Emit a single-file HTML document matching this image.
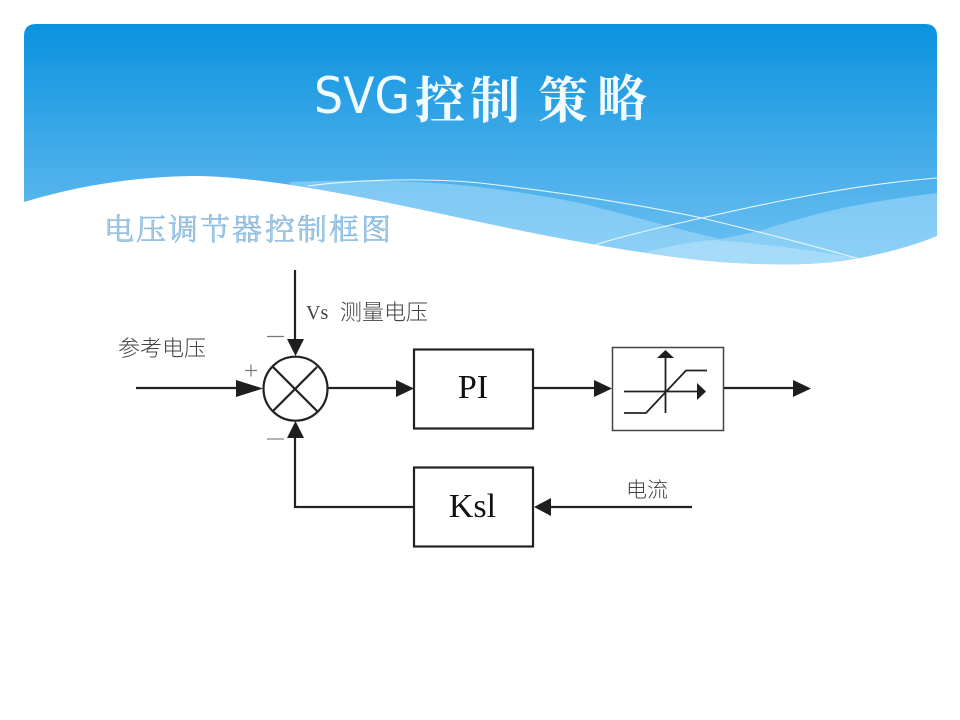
<!DOCTYPE html>
<html><head><meta charset="utf-8"><style>
html,body{margin:0;padding:0;background:#fff;width:960px;height:720px;overflow:hidden}
svg{display:block}
</style></head><body>
<svg width="960" height="720" viewBox="0 0 960 720" xmlns="http://www.w3.org/2000/svg">
<defs>
<linearGradient id="g" x1="0" y1="24" x2="0" y2="265" gradientUnits="userSpaceOnUse">
<stop offset="0" stop-color="#0a92df"/><stop offset="0.5" stop-color="#3faae8"/><stop offset="1" stop-color="#6fc1f2"/>
</linearGradient>
<clipPath id="c"><path d="M24 202C90 182 150 176 200 176C280 178 390 203 480 222C560 239 650 256 720 262C780 266 825 265 860 258C890 252 915 245 937 236L937 24L24 24Z"/></clipPath>
</defs>
<path d="M24 202C90 182 150 176 200 176C280 178 390 203 480 222C560 239 650 256 720 262C780 266 825 265 860 258C890 252 915 245 937 236V36Q937 24 925 24H36Q24 24 24 36Z" fill="url(#g)"/>
<g clip-path="url(#c)">
<path d="M290 182C360 179 430 181 480 187C520 192 550 197 580 203C640 218 680 230 720 239C735 236 750 233 763 230C790 221 820 213 847 207C880 201 910 196 937 193V270H290Z" fill="#a6dcfa" opacity=".55"/>
<path d="M625 258C660 247 695 241 713 240C760 243 810 250 857 258V270H625Z" fill="#bfe7fc" opacity=".5"/>
<path d="M308 186C360 179 430 178 480 183C560 192 640 205 702 218C760 232 810 245 860 259" fill="none" stroke="#e6f6fe" stroke-width="1.100"/>
<path d="M591 246C630 234 670 225 702 218C780 200 860 184 937 178" fill="none" stroke="#e6f6fe" stroke-width="1.100"/>
</g>
<g fill="#f2fbff">
<text x="314" y="113" font-family="'DejaVu Sans',sans-serif" font-size="50" textLength="96" lengthAdjust="spacingAndGlyphs">SVG</text>
<g font-family="'Noto Serif CJK SC',serif" font-weight="700" font-size="50">
<text x="415" y="118">控</text><text x="470" y="118">制</text><text x="538" y="118">策</text><text x="597" y="116">略</text>
</g>
</g>
<g font-family="'Noto Serif CJK SC',serif" font-size="30" fill="#a3cbe8" stroke="#6aa6d3" stroke-width=".4">
<text x="104" y="240">电</text><text x="136" y="240">压</text><text x="168" y="240">调</text><text x="200" y="240">节</text><text x="232" y="240">器</text><text x="265" y="240">控</text><text x="297" y="240">制</text><text x="329" y="240">框</text><text x="361" y="240">图</text>
</g>
<g fill="none" stroke="#222" stroke-width="2.200">
<circle cx="295.500" cy="388.700" r="32"/>
<path d="M273 367L317 411M317 367L273 411"/>
<path d="M295 270V345M136 388H245M328 388H400M295 430V507H414M534 388H600M724 388H798M692 507H545"/>
<rect x="414" y="349.500" width="119" height="79"/>
<rect x="414" y="467.500" width="119" height="79"/>
</g>
<rect x="612.500" y="347.500" width="111" height="83" fill="none" stroke="#444" stroke-width="1.500"/>
<g fill="none" stroke="#222" stroke-width="1.800">
<path d="M665.500 413V356M624 391.500H700M624 413H646L686 370.500H707"/>
</g>
<g fill="#1e1e1e">
<path d="M287 339H304L295.500 356Z"/>
<path d="M236 380V397L263 388.500Z"/>
<path d="M396 380V397L414 388.500Z"/>
<path d="M594 380V397L612 388.500Z"/>
<path d="M793 380V397L811 388.500Z"/>
<path d="M287 438H304L295.500 421Z"/>
<path d="M551 498V516L534 507Z"/>
<path d="M657 358H674L665.500 350Z"/>
<path d="M697 383V400L706 391.500Z"/>
</g>
<g font-family="'Liberation Serif',serif" fill="#111">
<text x="473" y="398" font-size="34" text-anchor="middle">PI</text>
<text x="472.500" y="517" font-size="34" text-anchor="middle">Ksl</text>
</g>
<g fill="#444">
<text x="306" y="319" font-size="20" font-family="'Liberation Serif',serif">Vs</text>
<text x="340" y="320" font-size="22" font-family="'Noto Sans CJK SC',sans-serif" font-weight="300">测量电压</text>
<text x="118" y="356" font-size="22" font-family="'Noto Sans CJK SC',sans-serif" font-weight="300">参考电压</text>
<text x="626" y="497" font-size="21" font-family="'Noto Sans CJK SC',sans-serif" font-weight="300">电流</text>
</g>
<g stroke="#777" stroke-width="1.200" fill="none">
<path d="M267 336.500H284M245 370.500H257M251 364.500V376.500"/>
<path d="M267 439H284" stroke="#999" stroke-width="1.500"/>
</g>
</svg>
</body></html>
